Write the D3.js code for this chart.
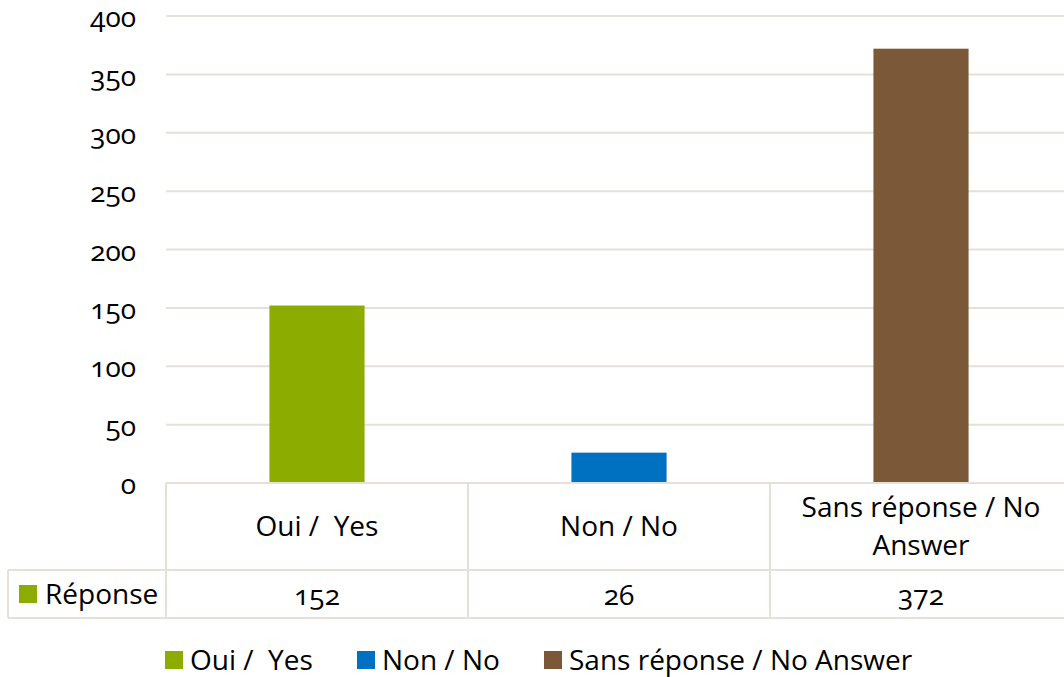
<!DOCTYPE html>
<html>
<head>
<meta charset="utf-8">
<script src="https://cdn.jsdelivr.net/npm/d3@7"></script>
<style>
  body { margin: 0; background: #fff; }
  svg text { font-family: "Open Sans", sans-serif; fill: #000; white-space: pre; font-variant-numeric: oldstyle-nums; }
</style>
</head>
<body>
<div id="chart-area"></div>
<script>
const categories = ["Oui /  Yes", "Non / No", "Sans réponse / No Answer"];
const categoryLines = [["Oui /  Yes"], ["Non / No"], ["Sans réponse / No", "Answer"]];
const values = [152, 26, 372];
const colors = ["#8DAC00", "#0070C0", "#7A5838"];
const seriesName = "Réponse";
const yTicks = [0, 50, 100, 150, 200, 250, 300, 350, 400];

const canvasWidth = 1064;
const canvasHeight = 677;
const plot = {left: 166, right: 1072, top: 16, bottom: 483};
const row1Bottom = 570;
const row2Bottom = 618;
const tableLeft = 8;
const gridColor = "#E5E0D9";
const fontSize = 28;

const svg = d3.select("#chart-area").append("svg")
  .attr("width", canvasWidth).attr("height", canvasHeight);

const scaleY = d3.scaleLinear().domain([0, 400]).range([plot.bottom, plot.top]);
const scaleX = d3.scaleBand().domain(categories).range([plot.left, plot.right]);
const barWidth = scaleX.bandwidth() * 0.315;

// gridlines
svg.append("g").selectAll("line").data(yTicks).join("line")
  .attr("x1", plot.left).attr("x2", plot.right)
  .attr("y1", d => scaleY(d)).attr("y2", d => scaleY(d))
  .attr("stroke", gridColor).attr("stroke-width", 2);

// y axis labels
const yAxis = d3.axisLeft(scaleY).tickValues(yTicks).tickSize(0).tickPadding(0);
const yAxisGroup = svg.append("g").attr("transform", `translate(136, 0)`).call(yAxis);
yAxisGroup.select(".domain").remove();
yAxisGroup.selectAll("text")
  .attr("font-size", fontSize)
  .attr("font-family", null)
  .attr("dy", "0.38em");

// bars
svg.append("g").selectAll("rect").data(values).join("rect")
  .attr("x", (d, i) => scaleX(categories[i]) + (scaleX.bandwidth() - barWidth) / 2)
  .attr("width", barWidth)
  .attr("y", d => scaleY(d))
  .attr("height", d => scaleY(0) - scaleY(d))
  .attr("fill", (d, i) => colors[i]);

// data table
const table = svg.append("g").attr("stroke", gridColor).attr("stroke-width", 2);
table.append("line").attr("x1", plot.left).attr("x2", plot.right).attr("y1", plot.bottom).attr("y2", plot.bottom);
table.append("line").attr("x1", tableLeft).attr("x2", plot.right).attr("y1", row1Bottom).attr("y2", row1Bottom);
table.append("line").attr("x1", tableLeft).attr("x2", plot.right).attr("y1", row2Bottom).attr("y2", row2Bottom);
table.append("line").attr("x1", tableLeft).attr("x2", tableLeft).attr("y1", row1Bottom).attr("y2", row2Bottom);
const colEdges = categories.map(c => scaleX(c)).concat([plot.right]);
table.selectAll(".vline").data(colEdges).join("line")
  .attr("x1", d => d).attr("x2", d => d)
  .attr("y1", plot.bottom).attr("y2", row2Bottom);

// category labels
const lineHeight = 38;
const row1Mid = (plot.bottom + row1Bottom) / 2;
categories.forEach((c, i) => {
  const lines = categoryLines[i];
  const cx = scaleX(c) + scaleX.bandwidth() / 2;
  lines.forEach((ln, j) => {
    svg.append("text")
      .attr("x", cx)
      .attr("y", row1Mid + (j - (lines.length - 1) / 2) * lineHeight)
      .attr("dy", "0.35em")
      .attr("text-anchor", "middle")
      .attr("font-size", fontSize)
      .text(ln);
  });
});

// values row
const row2Mid = (row1Bottom + row2Bottom) / 2;
svg.append("g").selectAll("text").data(values).join("text")
  .attr("x", (d, i) => scaleX(categories[i]) + scaleX.bandwidth() / 2)
  .attr("y", row2Mid)
  .attr("dy", "0.38em")
  .attr("text-anchor", "middle")
  .attr("font-size", fontSize)
  .text(d => d);

// series key in table
svg.append("rect").attr("x", 19).attr("y", 585).attr("width", 18).attr("height", 18).attr("fill", colors[0]);
svg.append("text").attr("x", 45).attr("y", row2Mid).attr("dy", "0.35em")
  .attr("font-size", fontSize).text(seriesName);

// legend
const legendX = [165, 357, 544];
const legendY = 660;
const legend = svg.append("g");
categories.forEach((c, i) => {
  const item = legend.append("g").attr("transform", `translate(${legendX[i]}, ${legendY})`);
  item.append("rect").attr("x", 0).attr("y", -9).attr("width", 18).attr("height", 18).attr("fill", colors[i]);
  item.append("text").attr("x", 25).attr("y", 0).attr("dy", "0.35em")
    .attr("font-size", fontSize).text(c);
});
</script>
</body>
</html>
